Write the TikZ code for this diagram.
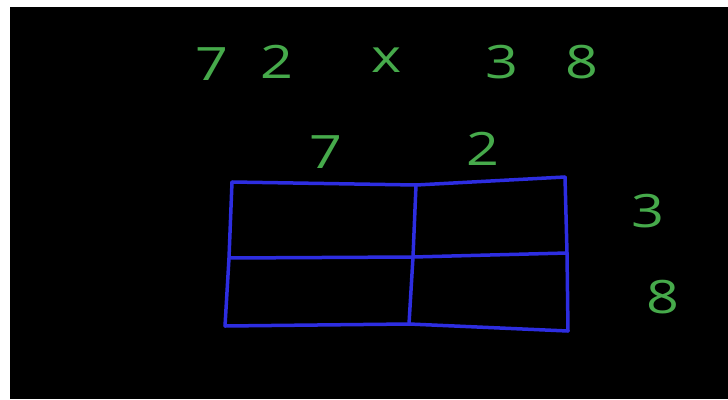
\documentclass[tikz,border=0pt]{standalone}
\usepackage{fontspec}
\setmainfont{Open Sans}
\usepackage{tikz}
\usetikzlibrary{positioning}

\definecolor{chalkgreen}{RGB}{70,170,75}
\definecolor{chalkblue}{RGB}{45,45,225}

\begin{document}
\begin{tikzpicture}[
    x=1pt, y=-1pt,
    digit/.style={text=chalkgreen, font=\fontsize{46}{46}\selectfont\addfontfeature{Weight=300,FakeStretch=1.25}, inner sep=0pt},
    gridline/.style={draw=chalkblue, line width=3.5pt, line cap=round, line join=round}
]

\useasboundingbox[fill=white] (0,0) rectangle (728,399);
\fill[black] (10,7) rectangle (728,399);

% the problem
\node[digit] (a7) at (212,64) {7};
\node[digit] (a2) at (277,62) {2};
\node[digit] (times) at (387,60) {x};
\node[digit] (b3) at (502,62) {3};
\node[digit] (b8) at (582,62) {8};

% labels round the grid
\node[digit] (top7) at (326,152) {7};
\node[digit] (top2) at (483,149) {2};
\node[digit] (side3) at (648,211) {3};
\node[digit] (side8) at (663,297) {8};

% grid corners
\coordinate (tl) at (232,182);
\coordinate (tm) at (416,185);
\coordinate (tr) at (565,177);
\coordinate (ml) at (229,258);
\coordinate (mm) at (413,257);
\coordinate (mr) at (567,253);
\coordinate (bl) at (225,326);
\coordinate (bm) at (409,324);
\coordinate (br) at (568,331);

\draw[gridline] (tl) -- (tm) -- (tr);
\draw[gridline] (ml) -- (mm) -- (mr);
\draw[gridline] (bl) -- (bm) -- (br);
\draw[gridline] (tl) -- (ml) -- (bl);
\draw[gridline] (tm) -- (mm) -- (bm);
\draw[gridline] (tr) -- (mr) -- (br);

\end{tikzpicture}
\end{document}
